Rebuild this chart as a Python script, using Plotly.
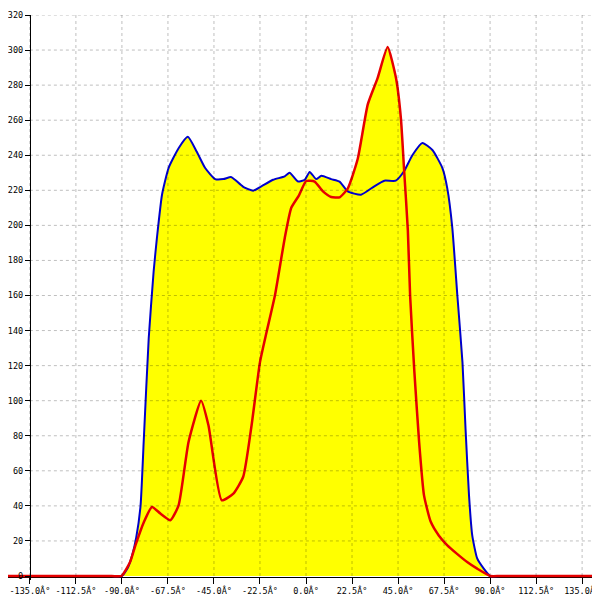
import plotly.graph_objects as go

# Angles (degrees) and intensities
BLUE_X = [-180, -95, -90, -87, -85, -83, -80.9, -79.3, -76.9, -74.5, -72.9, -70.4, -67.2,
          -62.3, -57.8, -53.4, -49.3, -44.4, -40.4, -36.7, -34.7, -30.7, -25.8, -21.8,
          -16.1, -10.4, -8, -3.9, -0.6, 1.8, 5, 7.5, 12.3, 16.4, 20.4, 26.9, 33.4, 38.3,
          43.9, 48, 52, 56.9, 61.8, 66.7, 69.1, 71.5, 74, 76.5, 78, 79.7, 81.3, 83.7,
          86.9, 90, 95, 180]
BLUE_Y = [0, 0, 0, 5, 11.8, 22, 40, 78, 135.6, 173.7, 192.7, 217.5, 232.7,
          244, 250.5, 242, 232.7, 226.4, 226.4, 227.6, 226, 222, 219.8, 222.3,
          226, 228, 230, 225, 226, 230.5, 226.4, 228.3, 226.4, 225, 219.4, 217.5, 222.3, 225.5,
          225.5, 231, 240, 247, 243, 232.7, 221, 199, 160, 122, 84, 46, 23, 10,
          4.2, 0, 0, 0]

RED_X = [-180, -95, -90.3, -86, -83.4, -79.3, -75.3, -71.2, -66.3, -62.3, -57.4, -51.3,
         -47.7, -41.2, -35.5, -30.7, -26.6, -22.5, -19.3, -15.2, -10.4, -7.2, -3.5, 0.1,
         4.2, 8.3, 12.3, 16.4, 20.4, 25.3, 30.2, 35, 39.9, 44, 46.4, 48, 49.8, 50.9, 52.9,
         55.3, 57.7, 61, 65, 69.1, 74, 78.8, 83.7, 90.2, 95, 180]
RED_Y = [0, 0, 0, 8, 17.5, 30.7, 39.4, 35.6, 31.8, 40.3, 76.6, 100,
         86, 43.2, 47, 56.6, 86, 122, 139, 160, 192.7, 210, 217, 225.3,
         225, 219.4, 216.2, 216, 221, 238, 269, 284, 301.7, 284, 261, 231, 197, 160, 118,
         76.6, 46, 30.9, 23, 17.5, 12.5, 8, 4.2, 0, 0, 0]

X_TICKS = [-135, -112.5, -90, -67.5, -45, -22.5, 0, 22.5, 45, 67.5, 90, 112.5, 135]
X_TICK_TEXT = [f"{v:.1f}Â°" for v in X_TICKS]
Y_TICKS = list(range(0, 321, 20))

YELLOW = "#ffff00"
BLUE = "#0000cc"
RED = "#e60000"
GRID = "rgba(0,0,0,0.25)"
FONT = dict(family="DejaVu Sans Mono", size=8.5, color="black")

# the page adds an 8px body margin, so the figure is 592px and sits at (8, 8)
Y_AXIS_POS = 22 / 590

fig = go.Figure()

# red area (fill only), blue area with line, then red line on top
fig.add_trace(go.Scatter(x=RED_X, y=RED_Y, mode="lines", fill="tozeroy",
                         fillcolor=YELLOW, line=dict(width=0, shape="spline", smoothing=0.5)))
fig.add_trace(go.Scatter(x=BLUE_X, y=BLUE_Y, mode="lines", fill="tozeroy",
                         fillcolor=YELLOW,
                         line=dict(color=BLUE, width=2, shape="spline", smoothing=0.5)))
fig.add_trace(go.Scatter(x=RED_X, y=RED_Y, mode="lines",
                         line=dict(color=RED, width=2.5, shape="spline", smoothing=0.5)))

# dotted grid drawn over the fill
for v in X_TICKS:
    fig.add_shape(type="line", xref="x", yref="y", x0=v, x1=v, y0=0, y1=320,
                  line=dict(color=GRID, width=1, dash="3px,3px"), layer="above")
for v in Y_TICKS[1:]:
    fig.add_shape(type="line", xref="paper", yref="y", x0=Y_AXIS_POS, x1=1, y0=v, y1=v,
                  line=dict(color=GRID, width=1, dash="3px,3px"), layer="above")
# right border
fig.add_shape(type="line", xref="paper", yref="y", x0=1, x1=1, y0=0, y1=320,
              line=dict(color="black", width=1), layer="above")

fig.update_layout(
    width=592,
    height=592,
    showlegend=False,
    hovermode=False,
    plot_bgcolor="white",
    paper_bgcolor="white",
    margin=dict(l=0, r=2, t=7, b=20),
    xaxis=dict(
        range=[-145.7, 141.3],
        anchor="free",
        position=3 / 565,
        tickvals=X_TICKS,
        ticktext=X_TICK_TEXT,
        ticks="outside",
        ticklen=6,
        tickcolor="black",
        showline=True,
        linecolor="black",
        linewidth=1,
        showgrid=False,
        zeroline=False,
        tickfont=FONT,
        ticklabeloverflow="allow",
        layer="below traces",
    ),
    yaxis=dict(
        range=[-2.28, 320],
        anchor="free",
        position=Y_AXIS_POS,
        tickvals=Y_TICKS,
        ticks="outside",
        ticklen=5,
        tickcolor="black",
        showline=True,
        linecolor="black",
        linewidth=1,
        showgrid=False,
        zeroline=False,
        tickfont=FONT,
    ),
)

fig.write_html("out.html")
